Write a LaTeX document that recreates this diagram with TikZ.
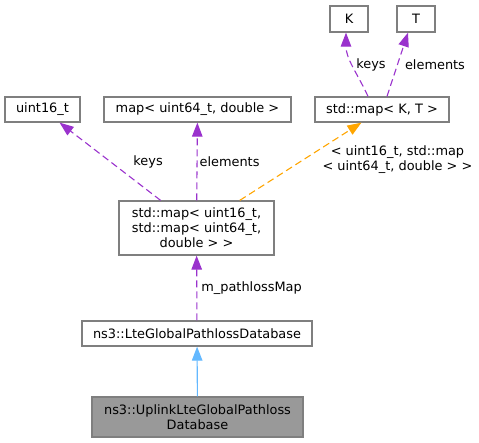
\documentclass[tikz,border=0pt]{standalone}
\usepackage{fontspec}
\setmainfont{DejaVu Sans}
\usetikzlibrary{arrows.meta,positioning}
\definecolor{boxgray}{HTML}{7F7F7F}
\definecolor{usepurple}{HTML}{9A32CD}
\definecolor{tmplorange}{HTML}{FFA500}
\definecolor{inhblue}{HTML}{63B8FF}
\definecolor{curfill}{HTML}{999999}
\begin{document}
\begin{tikzpicture}[x=1pt,y=-1pt,
	font=\fontsize{12.9}{15}\selectfont,
	cls/.style={draw=boxgray,line width=1.3pt,inner sep=0pt,align=center},
	use/.style={usepurple,line width=1.1pt,dash pattern=on 7pt off 4pt,-{Triangle[length=14pt,width=10.5pt]}},
	tmpl/.style={use,tmplorange},
	inh/.style={inhblue,line width=1.1pt,-{Triangle[length=14pt,width=10.5pt]}},
	lbl/.style={inner sep=2pt,text=black}]
			\useasboundingbox (0,0) rectangle (479,443);

			\node[cls,minimum width=38pt,minimum height=26pt] (k) at (349,19) {K};
			\node[cls,minimum width=38pt,minimum height=26pt] (t) at (416,19) {T};
			\node[cls,minimum width=75pt,minimum height=25pt] (u16) at (42.5,109.5) {uint16\_t};
			\node[cls,minimum width=187pt,minimum height=25pt] (m64) at (197.5,109.5) {map< uint64\_t, double >};
			\node[cls,minimum width=134pt,minimum height=25pt] (kt) at (382,109.5) {std::map< K, T >};
			\node[cls,minimum width=155pt,minimum height=54pt] (pmap) at (196.5,228) {std::map< uint16\_t,\\ std::map< uint64\_t,\\ double > >};
			\node[cls,minimum width=230pt,minimum height=25pt] (db) at (197,333.5) {ns3::LteGlobalPathlossDatabase};
			\node[cls,fill=curfill,minimum width=211pt,minimum height=40pt] (up) at (197.5,417) {ns3::UplinkLteGlobalPathloss\\Database};

			\draw[use] ([xshift=-14pt]kt.north) to[out=115,in=-90] node[lbl,right=1pt] {keys} ([xshift=-3pt]k.south);
			\draw[use] ([xshift=5pt]kt.north) -- node[lbl,right=5pt] {elements} ([xshift=-8pt]t.south);
			\draw[use] (pmap) -- node[lbl,pos=0.5,xshift=38pt] {keys} (u16);
			\draw[use] (pmap) -- node[lbl,right] {elements} (m64);
			\draw[tmpl] (pmap) -- node[lbl,pos=0.52,right=17pt,align=center] {< uint16\_t, std::map\\< uint64\_t, double > >} (kt);
			\draw[use] (db) -- node[lbl,right=2pt] {m\_pathlossMap} (pmap);
			\draw[inh] (up) -- (db);
		\end{tikzpicture}
\end{document}
